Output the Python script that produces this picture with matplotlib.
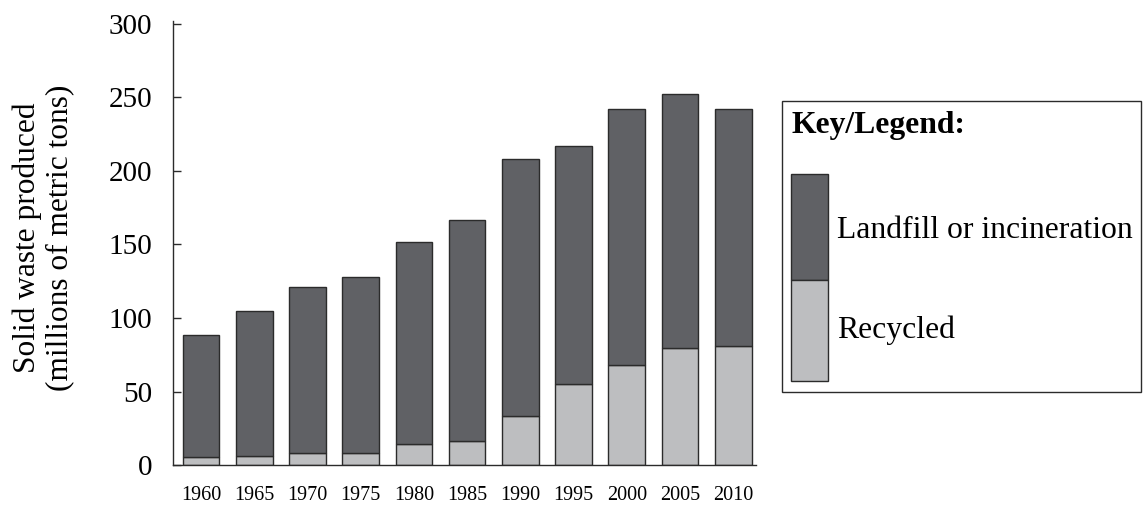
import matplotlib
matplotlib.use("Agg")
import matplotlib.pyplot as plt
from matplotlib.patches import Rectangle

years = ["1960", "1965", "1970", "1975", "1980", "1985",
         "1990", "1995", "2000", "2005", "2010"]
total = [88.4, 104.9, 121.4, 127.7, 151.5, 166.3,
         208.3, 217.1, 241.9, 252.1, 241.9]
recycled = [5.4, 6.5, 8.3, 8.3, 14.4, 16.2,
            33.4, 54.9, 68.3, 79.4, 81.2]
landfill = [t - r for t, r in zip(total, recycled)]

dark = "#606165"
light = "#bdbec0"
edge = "#2b2b2b"

plt.rcParams["font.family"] = ["Liberation Serif", "DejaVu Serif"]

fig = plt.figure(figsize=(11.44, 5.07), dpi=100)
ax = fig.add_axes([0.151, 0.0822, 0.510, 0.877])

x = list(range(len(years)))
ax.bar(x, recycled, width=0.69, color=light, edgecolor=edge, linewidth=1.0)
ax.bar(x, landfill, width=0.69, bottom=recycled, color=dark,
       edgecolor=edge, linewidth=1.0)

ax.set_xlim(-0.53, 10.43)
ax.set_ylim(0, 302)
ax.set_yticks([0, 50, 100, 150, 200, 250, 300])
ax.set_xticks(x)
ax.set_xticklabels(years, fontsize=14.5)
ax.tick_params(axis="y", direction="in", length=6, width=1.0,
               labelsize=21, pad=15, color=edge)
ax.tick_params(axis="x", length=0, pad=15)
for s in ["top", "right"]:
    ax.spines[s].set_visible(False)
for s in ["left", "bottom"]:
    ax.spines[s].set_color(edge)
    ax.spines[s].set_linewidth(1.0)

# two-line y label
fig.text(0.0235, 0.531, "Solid waste produced", rotation=90,
         ha="center", va="center", fontsize=22.6)
fig.text(0.0518, 0.531, "(millions of metric tons)", rotation=90,
         ha="center", va="center", fontsize=22.6)

# legend box drawn by hand in figure coordinates
W, H = 1144, 507
def fx(px):
    return px / W
def fy(py):
    return 1 - py / H

fig.add_artist(Rectangle((fx(782), fy(392)), fx(1141) - fx(782),
                         fy(101) - fy(392), transform=fig.transFigure,
                         facecolor="white", edgecolor=edge, linewidth=1.0))
fig.add_artist(Rectangle((fx(791), fy(280)), fx(828) - fx(791),
                         fy(174) - fy(280), transform=fig.transFigure,
                         facecolor=dark, edgecolor=edge, linewidth=1.0))
fig.add_artist(Rectangle((fx(791), fy(381)), fx(828) - fx(791),
                         fy(280) - fy(381), transform=fig.transFigure,
                         facecolor=light, edgecolor=edge, linewidth=1.0))
fig.text(fx(791), fy(126), "Key/Legend:", ha="left", va="center",
         fontsize=22.8, fontweight="bold")
fig.text(fx(837), fy(230), "Landfill or incineration", ha="left",
         va="center", fontsize=22.8)
fig.text(fx(837), fy(330), "Recycled", ha="left", va="center", fontsize=22.8)

fig.savefig("out.png", dpi=100)
